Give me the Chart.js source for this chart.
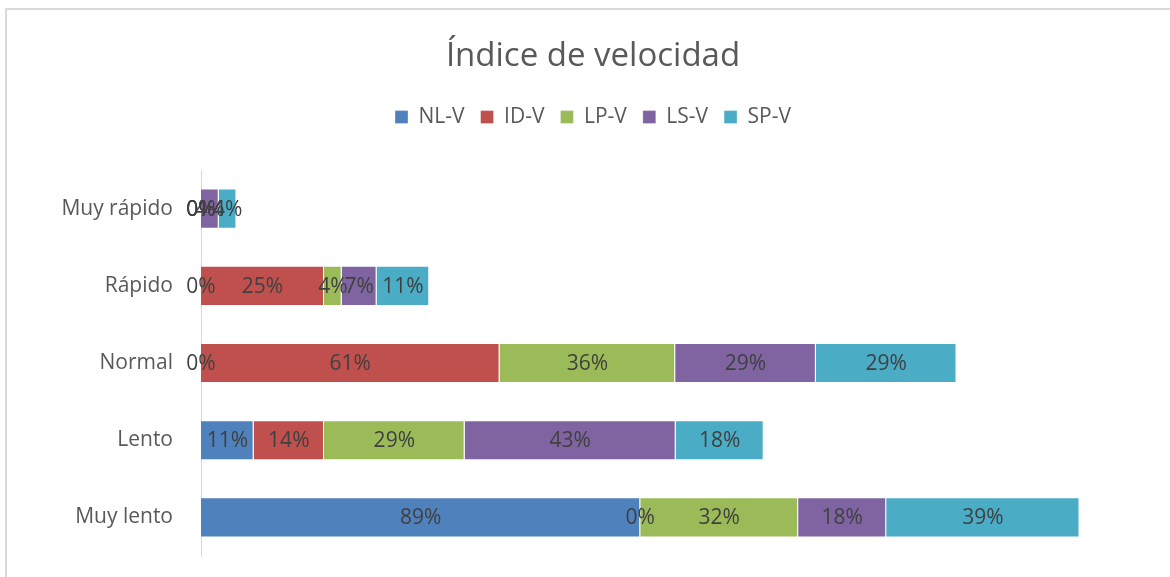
<!DOCTYPE html>
<html>
<head>
<meta charset="utf-8">
<script src="https://cdn.jsdelivr.net/npm/chart.js@4/dist/chart.umd.min.js"></script>
<style>
  html, body { margin: 0; padding: 0; background: #fff; overflow: hidden; }
  #frame { position: absolute; left: 5px; top: 8px; width: 1200px; height: 600px; border: 2px solid #d9d9d9; }
  #wrap { position: absolute; left: 0; top: 0; width: 1170px; height: 577px; }
</style>
</head>
<body>
<div id="frame"></div>
<div id="wrap"><canvas id="chart" width="1170" height="577"></canvas></div>
<script>
const categories = ['Muy rápido', 'Rápido', 'Normal', 'Lento', 'Muy lento'];
const nlV = [0, 0, 0, 10.7, 89.3];
const idV = [0, 25, 60.7, 14.3, 0];
const lpV = [0, 3.6, 35.7, 28.6, 32.1];
const lsV = [3.6, 7.1, 28.6, 42.9, 17.9];
const spV = [3.6, 10.7, 28.6, 17.9, 39.3];

const FONT = "'Open Sans', sans-serif";

// Draw the percentage label in the middle of every segment, zero values included
const segmentLabels = {
    id: 'segmentLabels',
    afterDatasetsDraw(chart) {
        const ctx = chart.ctx;
        ctx.save();
        ctx.font = "21px " + FONT;
        ctx.fillStyle = '#404040';
        ctx.textAlign = 'center';
        ctx.textBaseline = 'middle';
        chart.data.datasets.forEach((ds, i) => {
            const meta = chart.getDatasetMeta(i);
            meta.data.forEach((bar, j) => {
                const x = (bar.x + bar.base) / 2;
                ctx.fillText(Math.round(ds.data[j]) + '%', x, bar.y + 1);
            });
        });
        ctx.restore();
    }
};

const ctx = document.getElementById('chart').getContext('2d');
new Chart(ctx, {
    type: 'bar',
    data: {
        labels: categories,
        datasets: [
            { label: 'NL-V', data: nlV, backgroundColor: '#4F81BD' },
            { label: 'ID-V', data: idV, backgroundColor: '#C0504D' },
            { label: 'LP-V', data: lpV, backgroundColor: '#9BBB59' },
            { label: 'LS-V', data: lsV, backgroundColor: '#8064A2' },
            { label: 'SP-V', data: spV, backgroundColor: '#4BACC6' }
        ].map(d => Object.assign(d, {
            borderWidth: 1,
            borderColor: 'rgba(255,255,255,0.35)',
            categoryPercentage: 1,
            barPercentage: 0.52
        }))
    },
    plugins: [segmentLabels],
    options: {
        indexAxis: 'y',
        responsive: false,
        animation: false,
        layout: { padding: { left: 16, right: 0, bottom: 21 } },
        scales: {
            x: {
                stacked: true,
                display: false,
                min: 0,
                max: 197
            },
            y: {
                stacked: true,
                grid: { display: false, drawTicks: true, tickLength: 22 },
                border: { display: true, color: '#d9d9d9', width: 1 },
                ticks: {
                    color: '#595959',
                    padding: 6,
                    font: { family: FONT, size: 21 }
                },
                afterFit(scale) { scale.width = 185; }
            }
        },
        plugins: {
            title: {
                display: true,
                text: 'Índice de velocidad',
                color: '#595959',
                font: { family: FONT, size: 33, weight: 'normal' },
                padding: { top: 37, bottom: 14 }
            },
            // empty spacer kept between the legend and the plot
            subtitle: {
                display: true,
                text: ' ',
                weight: 500,
                font: { size: 10 },
                padding: { top: 10, bottom: 10.5 }
            },
            legend: {
                position: 'top',
                labels: {
                    color: '#595959',
                    font: { family: FONT, size: 21 },
                    boxWidth: 13,
                    boxHeight: 13,
                    padding: 16
                }
            },
            tooltip: { enabled: false }
        }
    }
});
</script>
</body>
</html>
